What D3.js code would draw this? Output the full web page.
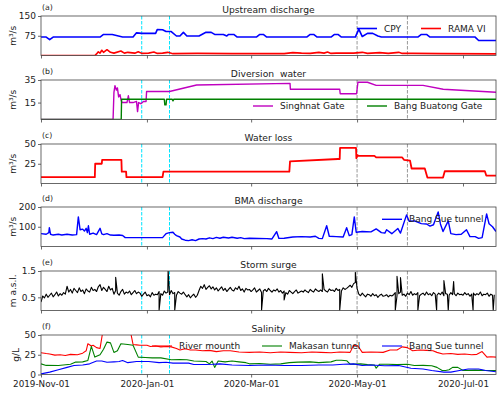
<!DOCTYPE html>
<html>
<head>
<meta charset="utf-8">
<script src="https://cdn.jsdelivr.net/npm/d3@7"></script>
<style>
  body { margin: 0; background: #fff; }
  svg { display: block; font-family: "DejaVu Sans", sans-serif; }
</style>
</head>
<body>
<svg id="chart"></svg>
<script>
// set up constants
const width = 500;
const height = 393;
const left = 41;
const right = 496;
const panelTops = [16, 80, 144, 207, 271, 335];
const panelH = 39.5;

// all series are [days since 2019-11-01, value]
const startDate = '2019-11-01';
const endDate = '2020-07-20';
const tickDates = ['2019-11-01', '2020-01-01', '2020-03-01', '2020-05-01', '2020-07-01'];
const cyanDates = ['2019-12-29', '2020-01-14'];
const grayDates = ['2020-05-01', '2020-05-30'];

// (a) upstream discharge, m3/s
const cpy = [[0,70],[3,70],[5,60],[7,70],[34,70],[36,80],[41,80],[44,75],[47,70],[53,70],[55,86],[58,84],[66,84],[67,99],[70,98],[72,91],[75,91],[78,74],[80,74],[82,88],[84,74],[91,74],[95,88],[98,88],[100,80],[105,80],[107,74],[108,80],[111,80],[113,70],[124,70],[126,80],[128,80],[130,70],[153,70],[155,80],[157,80],[159,70],[167,70],[169,80],[171,80],[173,70],[181,70],[183,100],[185,72],[188,84],[191,84],[194,74],[196,70],[217,70],[219,80],[222,80],[224,70],[250,70],[252,57],[262,57]];
const ramaVI = [[0,0],[31,0],[32,6],[33,14],[34,9],[35,20],[36,12],[38,22],[40,12],[42,9],[46,17],[48,9],[50,12],[54,9],[56,14],[58,8],[62,9],[65,13],[67,8],[70,9],[73,12],[76,7],[90,8],[110,7],[140,7],[145,11],[150,9],[155,8],[160,12],[163,9],[165,13],[167,8],[170,9],[180,9],[185,12],[188,8],[195,11],[200,8],[206,12],[208,8],[214,8],[230,7],[262,6]];

// (b) diversion water, m3/s
const singhnat = [[0,0],[41.5,0],[42,24],[42.6,30],[43.4,26],[44,28],[44.7,20],[45.5,22],[46,18],[46.6,15],[49.5,15],[50.3,21],[51,15],[53,15],[55,16],[55.6,7],[56.2,15],[57.5,14],[59,16],[60.5,16],[60.8,24.8],[74,24.8],[89.6,30.6],[143.4,32],[143.6,26.8],[172,26.8],[172.3,22.8],[181.7,22.8],[182.5,33],[188,33],[193,30.2],[220,30.2],[231.6,26.8],[262,24.2]];
const bangBuatong = [[0,0],[46.2,0],[46.4,18],[71,18],[71.3,13],[72,13],[72.3,18],[75.5,18],[76,16.5],[76.5,18],[262,18]];

// (c) water loss, m3/s
const waterLoss = [[0,8],[31,8],[31.2,25],[35,25],[35.2,30],[46.3,30],[46.5,15],[49,15],[49.2,8],[70,8],[70.5,15],[143,15],[143.4,28],[171,31],[172,31],[172.2,45],[181.4,45],[181.6,32],[182.3,36],[182.6,35],[192,35],[193,33],[208,33],[209,30],[212.5,29],[213.4,19],[221,19],[222.5,7.5],[231.5,7.5],[232.5,15.5],[255.6,15.5],[256.4,10],[262,10]];

// (d) BMA discharge, m3/s
const bangSue = [[0,65],[3,62],[4.5,70],[4.8,95],[5.5,62],[7,58],[10,62],[12,58],[15,62],[18,58],[20.5,60],[21.5,150],[22.5,85],[24,88],[25,78],[26,92],[26.7,70],[27.3,105],[28,62],[30,68],[32,60],[34,92],[35,64],[36,60],[38,65],[40,58],[42,57],[45,58],[47,56],[48.5,45],[70,45],[71,55],[72,65],[74,70],[76,72],[77,62],[78,55],[80,48],[81,38],[83,32],[85,30],[87,34],[89,30],[91,38],[93,40],[95,38],[97,44],[99,40],[101,46],[103,42],[105,47],[108,43],[110,47],[113,42],[115,45],[117,40],[120,42],[130,40],[133,38],[135.7,75],[137,41],[140,42],[145,48],[150,50],[155,48],[158,52],[160,41],[162,40],[164.5,105],[166,52],[170,50],[174,48],[176,95],[177.5,55],[179,60],[180.4,150],[181.5,72],[185,76],[190,74],[193,89],[196,70],[198,68],[199,85],[202,65],[205.5,91],[207,68],[210.5,160],[212,128],[215,130],[219,116],[222,114],[224,103],[226,110],[228.7,175],[230,114],[231.5,76],[234.5,130],[236,65],[239,60],[242,62],[245,85],[247,50],[250,50],[252,41],[254,45],[256.6,165],[258,115],[260,100],[262,76]];

// (e) storm surge, daily readings from 2019-11-01, m a.s.l.
const surge = [0.32,0.55,0.48,0.62,0.5,0.58,0.66,0.52,0.6,0.7,0.55,0.64,0.58,0.68,
  0.62,0.92,0.7,0.8,0.66,0.84,0.76,0.68,0.86,0.72,0.78,0.64,0.82,0.74,0.7,0.88,0.76,0.8,0.72,0.9,
  0.98,0.76,0.88,0.8,0.72,0.92,0.78,0.84,
  0.62,0.76,0.66,0.58,0.72,0.8,0.62,0.7,0.66,0.74,0.6,0.68,0.76,0.64,0.7,
  0.66,0.54,0.62,0.7,0.56,0.6,0.52,0.68,0.58,0.62,
  0.6,0.72,0.64,0.58,0.74,0.66,0.7,0.6,0.76,0.64,0.68,0.58,0.72,0.66,0.62,0.7,0.6,
  0.52,0.6,0.48,0.56,0.62,0.5,0.58,
  0.76,0.92,0.84,0.98,0.8,0.88,0.94,0.82,0.9,0.78,
  0.86,0.74,0.82,0.9,0.76,0.84,0.72,0.8,0.88,0.78,0.74,0.86,0.8,0.92,0.76,0.82,0.7,0.84,0.78,
  0.8,0.72,0.78,0.86,0.7,0.76,0.82,0.68,0.74,0.8,0.72,0.84,0.76,0.7,0.78,0.74,0.82,0.7,0.76,
  0.66,0.74,0.68,0.62,0.76,0.7,0.64,0.72,0.78,0.66,0.7,0.74,
  0.7,0.78,0.72,0.68,0.8,0.74,0.7,0.82,0.76,0.72,0.78,
  0.72,0.8,0.74,0.7,0.82,0.76,0.78,0.72,0.84,0.76,0.8,0.74,0.86,0.8,0.84,
  0.9,0.96,0.88,1.02,1.06,0.84,
  0.62,0.56,0.66,0.58,0.52,0.62,0.6,0.54,0.64,0.56,0.6,0.5,0.58,0.62,0.54,0.56,0.6,0.52,0.58,0.55,
  0.6,0.68,0.56,0.64,0.7,0.58,0.62,0.54,0.66,0.6,0.72,0.58,0.64,0.6,0.68,0.56,0.62,0.66,0.58,0.7,
  0.6,0.64,0.56,0.68,0.62,0.58,0.66,0.6,0.7,0.56,0.64,0.62,0.58,0.68,0.6,0.64,0.56,0.66,0.6,0.62,
  0.58,0.68,0.6,0.64,0.54,0.62,0.66,0.58,0.64,0.6,0.7,0.56,0.62,0.6,0.66,0.54,0.62,0.58,0.6];
const surgeSpikes = [[43,1.26],[68,0],[73.2,1.55],[77,0],[127,0],[140,0.4],[162,1.39],[172,0],[181,1.45],[204,0],[205,1.3],[207,1.25],[217,0],[227.8,0],[232,1.14],[234.5,0],[237.6,1.1],[248.8,0],[260.4,0]];

// (f) salinity, g/L
const riverMouth = [[0,27.5],[3,26.5],[5,26],[8,24.5],[11,25],[14,24],[17,25.5],[21,25],[24,27],[26,30],[27,39],[29,36],[30,37],[32,34],[34,33],[36,60],[51,60],[53,38],[55,37.5],[57,37],[61,37],[63,35.5],[66,36],[69,35],[72.5,35.5],[75,35],[78,33],[80,31],[83,32.5],[86,31],[89,31],[93,30],[97,30.5],[101,29],[105,30],[109,30],[114,28.5],[120,28],[126,28.5],[132,27.5],[138,28.5],[143,28],[150,27.5],[156,28.5],[161,28],[167,27.5],[172,28.5],[178,28],[180,37],[182.5,36],[185,28],[190,28.5],[197,28],[201,31],[205,31],[208,35],[211,34],[214,30],[218,31],[222,30.5],[225.7,30],[228,28],[231.4,26],[236,26.5],[240,25.5],[244,26],[248,25],[251,25.5],[254,29],[256.8,22],[259,22.5],[262,22]];
const makasan = [[0,13.5],[3,11.5],[10,11.4],[17,13],[20,15.7],[24,16],[27,17.8],[29,35.6],[31,22],[34,25],[36,32],[38,41],[40,40],[42,28],[44,30],[46,39],[50,38],[53,37],[56,22],[60,21.5],[64,21],[69,21],[75,18.6],[80,19],[84,18.6],[88,17],[95,16.5],[97,13.5],[98.5,17],[100,9],[102,17],[106,16],[110,17],[114,16],[118,15],[120,13.5],[126,14],[132,13],[138,13.5],[143,15],[148,15.7],[155,16],[160,15],[167,16],[170,18],[173,18],[176,17.5],[178,13],[184,13.5],[188,12.5],[192,12],[193,8],[195,13],[200,13],[205,12.5],[211,13],[215,11.4],[220,11.5],[225,11],[228,9],[231,5],[233,5],[235,6],[237,9],[240,9],[243,5],[250,5.5],[256,5],[262,5]];
const bangSueSal = [[0,0.8],[5,3],[10,6],[15,9],[19,11.4],[24,12],[28,13.5],[32,17],[35,17],[38,15.5],[42,16],[45,16.5],[47,17.8],[50,15],[55,16.5],[62,16.5],[68,15],[72,15.5],[76,14.4],[85,14.4],[88,12.7],[95,12.7],[99,13],[103,13.5],[110,12],[120,11.4],[130,12],[140,11.4],[150,11.4],[160,12],[168,12],[174,13],[180,13.5],[185,11.4],[190,12],[198,11],[206,11.4],[213,8],[220,7],[225,5],[232,3],[236,3],[241,5],[246,7],[252,7],[256,5],[262,3.5]];

// create SVG element
const svg = d3.select('#chart')
  .attr('width', width)
  .attr('height', height);

const parse = d3.utcParse('%Y-%m-%d');
const t0 = parse(startDate).getTime();
const dayToDate = d => new Date(t0 + d * 864e5);

const xScale = d3.scaleUtc()
  .domain([parse(startDate), parse(endDate)])
  .range([left, right]);

const surgeLine = surge.map((v, i) => [i, v])
  .concat(surgeSpikes)
  .sort((a, b) => a[0] - b[0]);

const panels = [
  { letter: '(a)', title: 'Upstream discharge', ylabel: 'm³/s', domain: [0, 150], ticks: [75, 150], fmt: d3.format('d'),
    series: [
      { data: cpy, color: '#0000ff', w: 1.6, name: 'CPY', lx: 357 },
      { data: ramaVI, color: '#ff0000', w: 1.6, name: 'RAMA VI', lx: 421 }
    ], legendY: 12.5 },
  { letter: '(b)', title: 'Diversion  water', ylabel: 'm³/s', domain: [0, 35], ticks: [15, 35], fmt: d3.format('d'),
    series: [
      { data: singhnat, color: '#bf00bf', w: 1.4, name: 'Singhnat Gate', lx: 253 },
      { data: bangBuatong, color: '#008000', w: 1.4, name: 'Bang Buatong Gate', lx: 367 }
    ], legendY: 26 },
  { letter: '(c)', title: 'Water loss', ylabel: 'm³/s', domain: [0, 50], ticks: [25, 50], fmt: d3.format('d'),
    series: [
      { data: waterLoss, color: '#ff0000', w: 1.8 }
    ] },
  { letter: '(d)', title: 'BMA discharge', ylabel: 'm³/s', domain: [0, 200], ticks: [100, 200], fmt: d3.format('d'),
    series: [
      { data: bangSue, color: '#0000ff', w: 1.4, name: 'Bang Sue tunnel', lx: 382 }
    ], legendY: 12.3 },
  { letter: '(e)', title: 'Storm surge', ylabel: 'm a.s.l.', domain: [0, 1.5], ticks: [0.5, 1.5], fmt: d3.format('.1f'),
    series: [
      { data: surgeLine, color: '#000000', w: 1.1 }
    ] },
  { letter: '(f)', title: 'Salinity', ylabel: 'g/L', domain: [0, 50], ticks: [0, 25, 50], fmt: d3.format('d'),
    series: [
      { data: riverMouth, color: '#ff0000', w: 1.1, name: 'River mounth', lx: 152 },
      { data: makasan, color: '#008000', w: 1.1, name: 'Makasan tunnel', lx: 262 },
      { data: bangSueSal, color: '#0000ff', w: 1.1, name: 'Bang Sue tunnel', lx: 382 }
    ], legendY: 11 }
];

panels.forEach((p, i) => {
  const top = panelTops[i];
  const bottom = top + panelH;
  const yScale = d3.scaleLinear().domain(p.domain).range([bottom, top]);
  const g = svg.append('g');

  // clip area
  g.append('clipPath').attr('id', 'clip' + i)
    .append('rect')
    .attr('x', left).attr('y', top)
    .attr('width', right - left).attr('height', panelH);

  const plot = g.append('g').attr('clip-path', `url(#clip${i})`);

  // event lines
  cyanDates.forEach(d => {
    plot.append('line')
      .attr('x1', xScale(parse(d))).attr('x2', xScale(parse(d)))
      .attr('y1', top).attr('y2', bottom)
      .attr('stroke', '#00e5ff').attr('stroke-width', 1)
      .attr('stroke-dasharray', '3.5,1.5');
  });
  grayDates.forEach(d => {
    plot.append('line')
      .attr('x1', xScale(parse(d))).attr('x2', xScale(parse(d)))
      .attr('y1', top).attr('y2', bottom)
      .attr('stroke', '#999').attr('stroke-width', 1)
      .attr('stroke-dasharray', '3.5,1.5');
  });

  const line = d3.line()
    .x(d => xScale(dayToDate(d[0])))
    .y(d => yScale(d[1]));

  p.series.forEach(s => {
    plot.append('path')
      .datum(s.data)
      .attr('d', line)
      .attr('fill', 'none')
      .attr('stroke', s.color)
      .attr('stroke-width', s.w)
      .attr('stroke-linejoin', 'round');
  });

  // frame
  g.append('rect')
    .attr('x', left).attr('y', top)
    .attr('width', right - left).attr('height', panelH)
    .attr('fill', 'none').attr('stroke', '#444').attr('stroke-width', 0.8);

  // axes
  const yAxis = d3.axisLeft(yScale).tickValues(p.ticks).tickFormat(p.fmt).tickSize(3).tickPadding(2);
  const ya = g.append('g').attr('transform', `translate(${left},0)`).call(yAxis);
  ya.select('.domain').remove();
  ya.selectAll('line').attr('stroke', '#444').attr('stroke-width', 0.8);
  ya.selectAll('text').attr('font-size', 9).attr('fill', '#222').attr('font-family', 'DejaVu Sans');

  const xAxis = d3.axisBottom(xScale).tickValues(tickDates.map(parse)).tickSize(3).tickPadding(3)
    .tickFormat(i === panels.length - 1 ? d3.utcFormat('%Y-%b-%d') : '');
  const xa = g.append('g').attr('transform', `translate(0,${bottom})`).call(xAxis);
  xa.select('.domain').remove();
  xa.selectAll('line').attr('stroke', '#444').attr('stroke-width', 0.8);
  xa.selectAll('text').attr('font-size', 8.8).attr('fill', '#222').attr('font-family', 'DejaVu Sans');

  // titles
  g.append('text')
    .attr('x', (left + right) / 2).attr('y', top - 3.5)
    .attr('text-anchor', 'middle')
    .attr('font-size', 9.2)
    .attr('fill', '#222')
    .style('white-space', 'pre')
    .text(p.title);
  g.append('text')
    .attr('x', left + 1).attr('y', top - 6)
    .attr('font-size', 7.8)
    .attr('fill', '#222')
    .text(p.letter);

  // y label
  g.append('text')
    .attr('transform', `translate(${i === 5 ? 16 : 13},${top + panelH / 2}) rotate(-90)`)
    .attr('text-anchor', 'middle')
    .attr('dominant-baseline', 'middle')
    .attr('font-size', 9)
    .attr('fill', '#222')
    .text(p.ylabel);

  // legend
  p.series.filter(s => s.name).forEach(s => {
    const ly = top + p.legendY;
    g.append('line')
      .attr('x1', s.lx).attr('x2', s.lx + 20)
      .attr('y1', ly).attr('y2', ly)
      .attr('stroke', s.color).attr('stroke-width', s.w);
    g.append('text')
      .attr('x', s.lx + 27).attr('y', ly)
      .attr('dominant-baseline', 'central')
      .attr('font-size', 9)
      .attr('fill', '#222')
      .text(s.name);
  });
});
</script>
</body>
</html>
